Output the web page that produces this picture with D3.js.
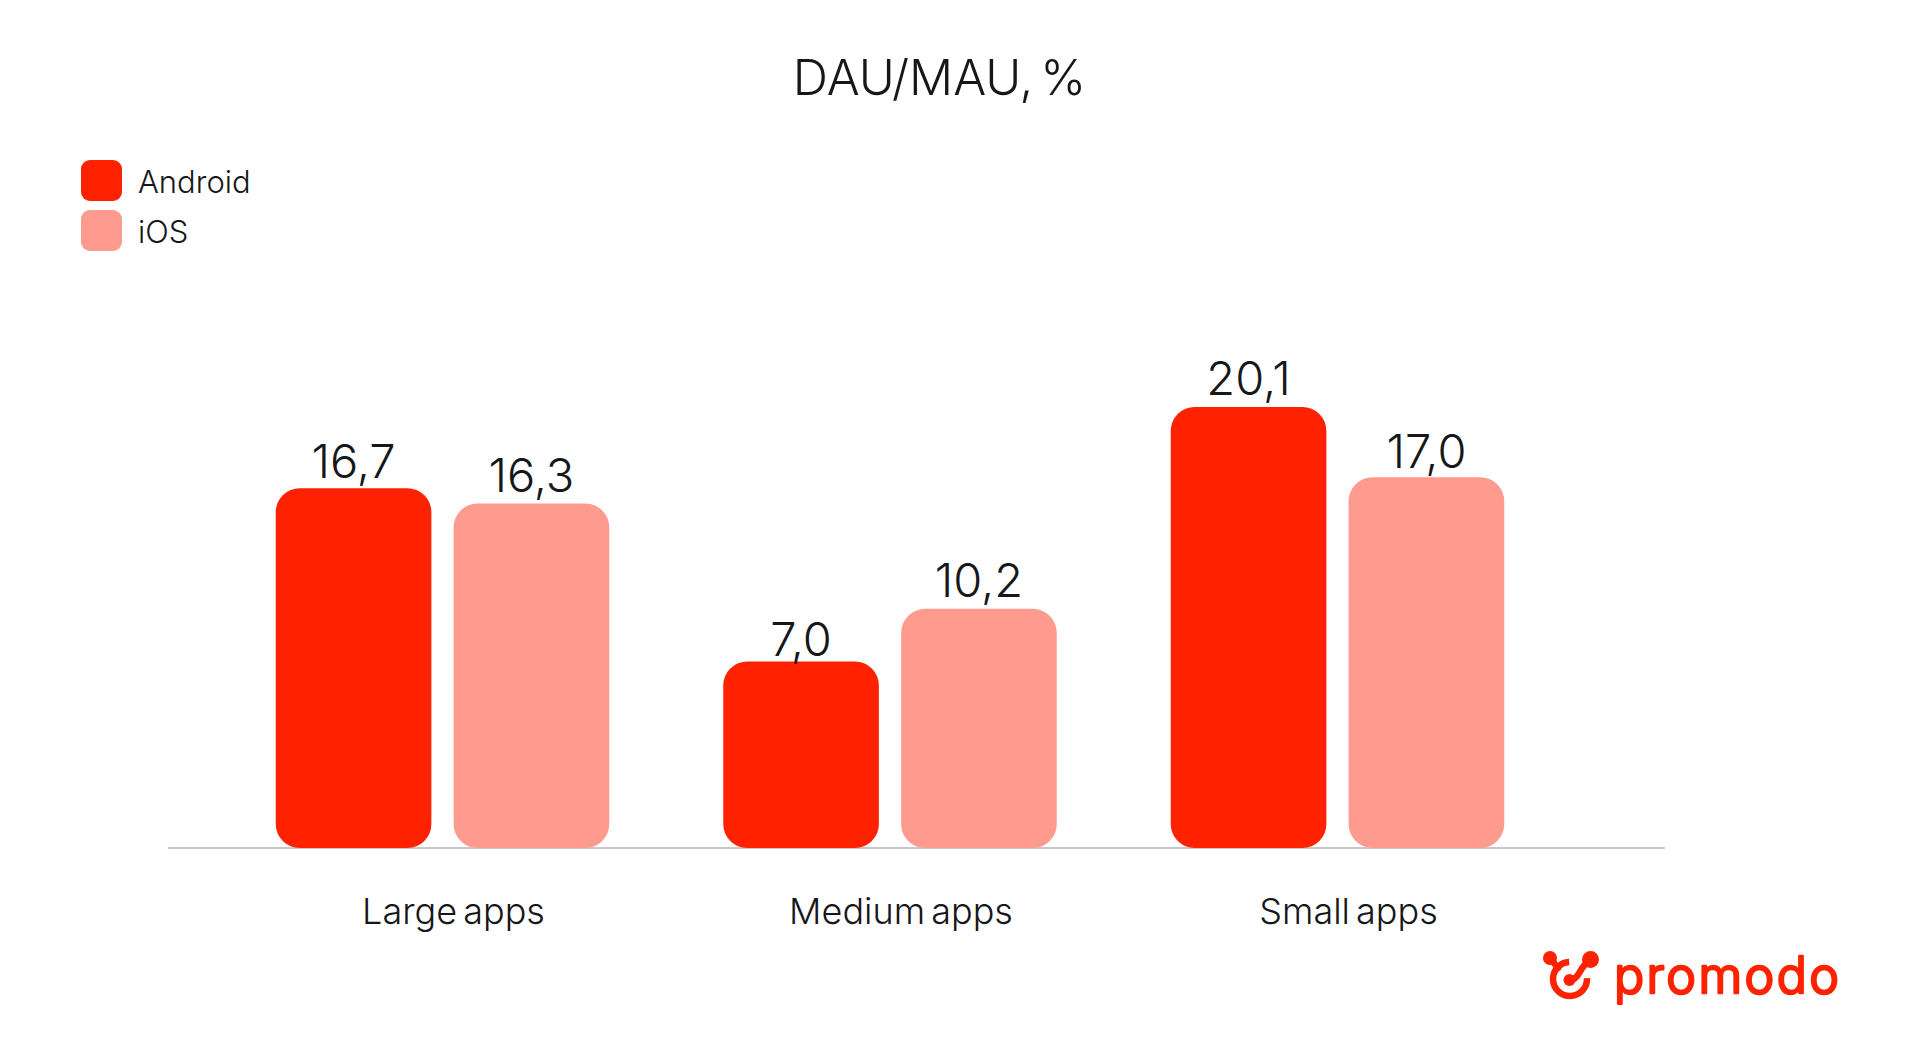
<!DOCTYPE html>
<html>
<head>
<meta charset="utf-8">
<title>DAU/MAU, %</title>
<script src="https://cdn.jsdelivr.net/npm/d3@7"></script>
<style>
body { margin: 0; background: #fff; }
text { font-family: Inter, sans-serif; font-weight: 300; fill: #15171a; }
</style>
</head>
<body>
<svg id="chart" width="1920" height="1038"></svg>
<script>
const categories = ["Large apps", "Medium apps", "Small apps"];
const series = ["Android", "iOS"];
const colors = ["#ff2200", "#ff9b8e"];

// printed labels
const androidLabels = ["16,7", "7,0", "20,1"];
const iosLabels = ["16,3", "10,2", "17,0"];
// bar lengths, the drawn bars are not quite in
// proportion with their printed labels (7,0 is drawn taller than that)
const androidValues = [16.4, 8.5, 20.1];
const iosValues = [15.7, 10.9, 16.9];
// gap between bar top and label, it changes from bar to bar in the picture
const androidGaps = [10, 6, 12];
const iosGaps = [12, 12, 9];

const svg = d3.select("#chart");

const x0 = d3.scaleBand().domain(categories).range([218.75, 1561.25])
  .paddingInner(0.2547).paddingOuter(0.12735);
const x1 = d3.scaleBand().domain(series).range([0, x0.bandwidth()]).paddingInner(0.125);
const y = d3.scaleLinear().domain([0, 20.1]).range([848, 407]);

svg.append("text").text("DAU/MAU, %")
  .attr("x", 939.5).attr("y", 95)
  .attr("text-anchor", "middle")
  .style("font-size", "49px")
  .style("word-spacing", "-7px");

// legend
series.forEach((s, i) => {
  svg.append("rect")
    .attr("x", 81).attr("y", 160 + i * 50)
    .attr("width", 41).attr("height", 41)
    .attr("rx", 9)
    .attr("fill", colors[i]);
  svg.append("text").text(s)
    .attr("x", 138).attr("y", 193 + i * 49.5)
    .style("font-size", "31px");
});

// baseline
svg.append("line")
  .attr("x1", 168).attr("x2", 1665)
  .attr("y1", y(0)).attr("y2", y(0))
  .attr("stroke", "#c8c8c8")
  .attr("stroke-width", 2);

const xAxis = svg.append("g")
  .attr("transform", `translate(11,${y(0)})`)
  .call(d3.axisBottom(x0).tickSize(0));
xAxis.select(".domain").remove();
xAxis.selectAll("text")
  .attr("dy", null)
  .attr("y", 76)
  .style("font-size", "36px")
  .style("word-spacing", "-4px")
  .style("font-family", "Inter, sans-serif");

function drawSeries(values, labels, gaps, i) {
  const g = svg.append("g");
  const left = k => x0(categories[k]) + x1(series[i]);
  g.selectAll("rect").data(values).enter().append("rect")
    .attr("x", (d, k) => left(k))
    .attr("y", d => y(d))
    .attr("width", x1.bandwidth())
    .attr("height", d => y(0) - y(d))
    .attr("rx", 24)
    .attr("fill", colors[i]);
  g.selectAll("text").data(values).enter().append("text")
    .text((d, k) => labels[k])
    .attr("x", (d, k) => left(k) + x1.bandwidth() / 2)
    .attr("y", (d, k) => y(d) - gaps[k])
    .attr("text-anchor", "middle")
    .style("font-size", "47px");
}
drawSeries(androidValues, androidLabels, androidGaps, 0);
drawSeries(iosValues, iosLabels, iosGaps, 1);

// promodo logo
const logo = svg.append("g")
  .attr("fill", "none")
  .attr("stroke", colors[0])
  .attr("stroke-width", 6.5)
  .attr("stroke-linecap", "round");
logo.append("path").attr("d", d3.arc()({
  innerRadius: 17, outerRadius: 17, startAngle: -0.05, endAngle: -0.05 - 1.5 * Math.PI
})).attr("transform", "translate(1570,979)");
logo.append("path").attr("d", "M1550,958L1558,968");
logo.append("path").attr("d", "M1569,980C1580,980 1578,968 1590,960");
logo.append("circle").attr("cx", 1550).attr("cy", 958).attr("r", 7).attr("fill", colors[0]).attr("stroke", "none");
logo.append("circle").attr("cx", 1590.5).attr("cy", 959.5).attr("r", 8.5).attr("fill", colors[0]).attr("stroke", "none");
logo.append("circle").attr("cx", 1569.5).attr("cy", 980).attr("r", 6).attr("fill", colors[0]).attr("stroke", "none");

svg.append("text").text("promodo")
  .attr("x", 1614).attr("y", 993)
  .attr("textLength", 225)
  .attr("stroke", colors[0])
  .attr("stroke-width", 2.5)
  .attr("stroke-linejoin", "round")
  .style("fill", colors[0])
  .style("font-size", "50px")
  .style("font-weight", 300);
</script>
</body>
</html>
